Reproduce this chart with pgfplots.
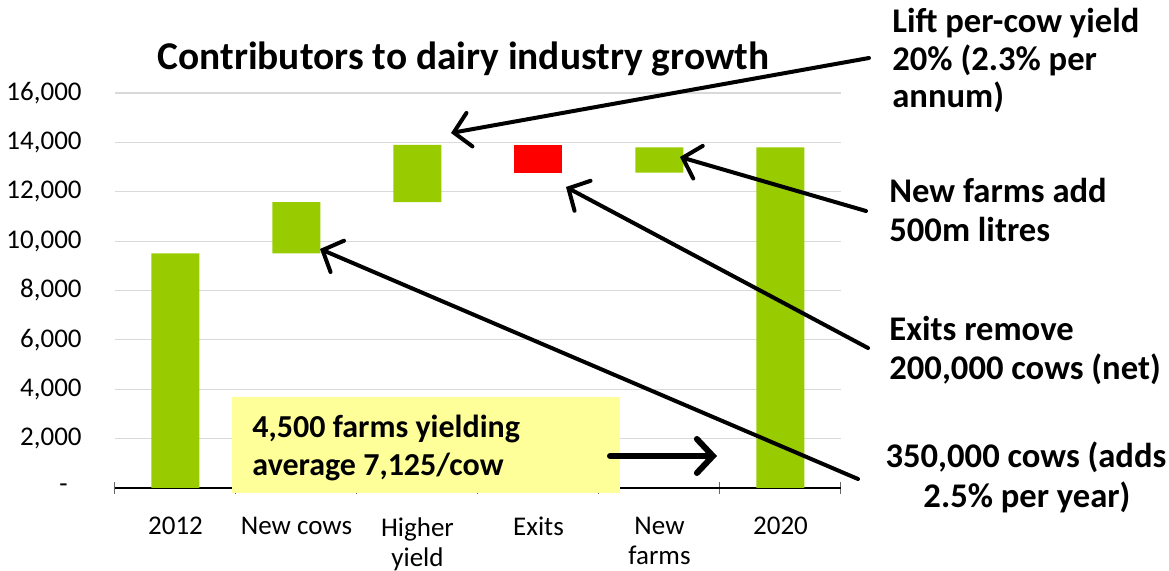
\documentclass[border=0pt]{standalone}
\usepackage{fontspec}
\setmainfont{Carlito}
\usepackage{pgfplots}
\pgfplotsset{compat=1.18}
\usetikzlibrary{arrows.meta}
\definecolor{bargreen}{HTML}{99CC00}
\definecolor{boxyellow}{HTML}{FFFF99}
\definecolor{gridgray}{HTML}{D9D9D9}
\begin{document}
\begin{tikzpicture}
\path[use as bounding box] (0,0) rectangle (584.5pt,-285.5pt);
\begin{axis}[
  at={(57.5pt,-244pt)}, anchor=south west,
  scale only axis, width=363pt, height=197.5pt,
  xmin=-0.5, xmax=5.5, ymin=0, ymax=16000,
  scaled y ticks=false,
  /pgf/number format/assume math mode=true,
  ybar stacked, bar width=24pt,
  axis x line*=bottom, axis y line*=left,
  y axis line style={draw=none},
  x axis line style={black, line width=0.6pt},
  ymajorgrids, grid style={gridgray, line width=0.6pt},
  ytick={0,2000,...,16000},
  yticklabels={{\hbox{-\kern7pt\rule{0pt}{1pt}}},{2,000},{4,000},{6,000},{8,000},{10,000},{12,000},{14,000},{16,000}},
  xtick={0,1,2,3,4,5},
  xticklabels={2012,New cows,{Higher\\yield},Exits,{New\\farms},2020},
  minor xtick={-0.5,0.5,1.5,2.5,3.5,4.5,5.5},
  major tick length=0pt, minor tick length=6pt,
  tick align=center,
  minor tick style={black!60, line width=0.5pt},
  ticklabel style={font=\fontsize{13.5}{15}\selectfont, inner sep=0pt},
  yticklabel shift=16.5pt,
  xticklabel shift=14.5pt,
  xticklabel style={align=center},
]
\addplot[draw=none, fill=none] coordinates {(0,0) (1,9500) (2,11575) (3,12775) (4,12775) (5,0)};
\addplot[draw=none, fill=bargreen] coordinates {(0,9500) (1,2075) (2,2325) (3,0) (4,1025) (5,13800)};
\addplot[draw=none, fill=red] coordinates {(0,0) (1,0) (2,0) (3,1125) (4,0) (5,0)};
\end{axis}
\begin{scope}[x=0.5pt, y=-0.5pt]
\fill[boxyellow] (232,397) rectangle (620,493);
\node[anchor=base west, inner sep=0pt, font=\bfseries\fontsize{16}{19.5}\selectfont] at (252,438) {4,500 farms yielding};
\node[anchor=base west, inner sep=0pt, font=\bfseries\fontsize{16}{19.5}\selectfont] at (252,476) {average 7,125/cow};
\node[anchor=base, inner sep=0pt, font=\bfseries\fontsize{19.7}{23}\selectfont] at (463.5,70) {Contributors to dairy industry growth};
\begin{scope}[font=\bfseries\fontsize{17.3}{18.5}\selectfont]
\node[anchor=base west, inner sep=0pt] at (892,33) {Lift per-cow yield};
\node[anchor=base west, inner sep=0pt] at (892,70.5) {20\% (2.3\% per};
\node[anchor=base west, inner sep=0pt] at (892,108) {annum)};
\node[anchor=base west, inner sep=0pt] at (889,203) {New farms add};
\node[anchor=base west, inner sep=0pt] at (889,242) {500m litres};
\node[anchor=base west, inner sep=0pt] at (889,341) {Exits remove};
\node[anchor=base west, inner sep=0pt] at (889,380) {200,000 cows (net)};
\node[anchor=base, inner sep=0pt] at (1026,468) {350,000 cows (adds};
\node[anchor=base, inner sep=0pt] at (1027,508) {2.5\% per year)};
\end{scope}
\begin{scope}[line width=2pt, line cap=round, -{Straight Barb[length=8pt,width=17pt,line cap=round]}]
\draw (869,58) -- (451,133);
\draw (866,211) -- (680,157);
\draw (868,348) -- (566,187);
\draw (858,479) -- (320,249);
\end{scope}
\draw[line width=3pt, line cap=round, -{Straight Barb[length=8pt,width=17pt,line cap=round]}] (610,456) -- (717,456);
\end{scope}
\end{tikzpicture}
\end{document}
